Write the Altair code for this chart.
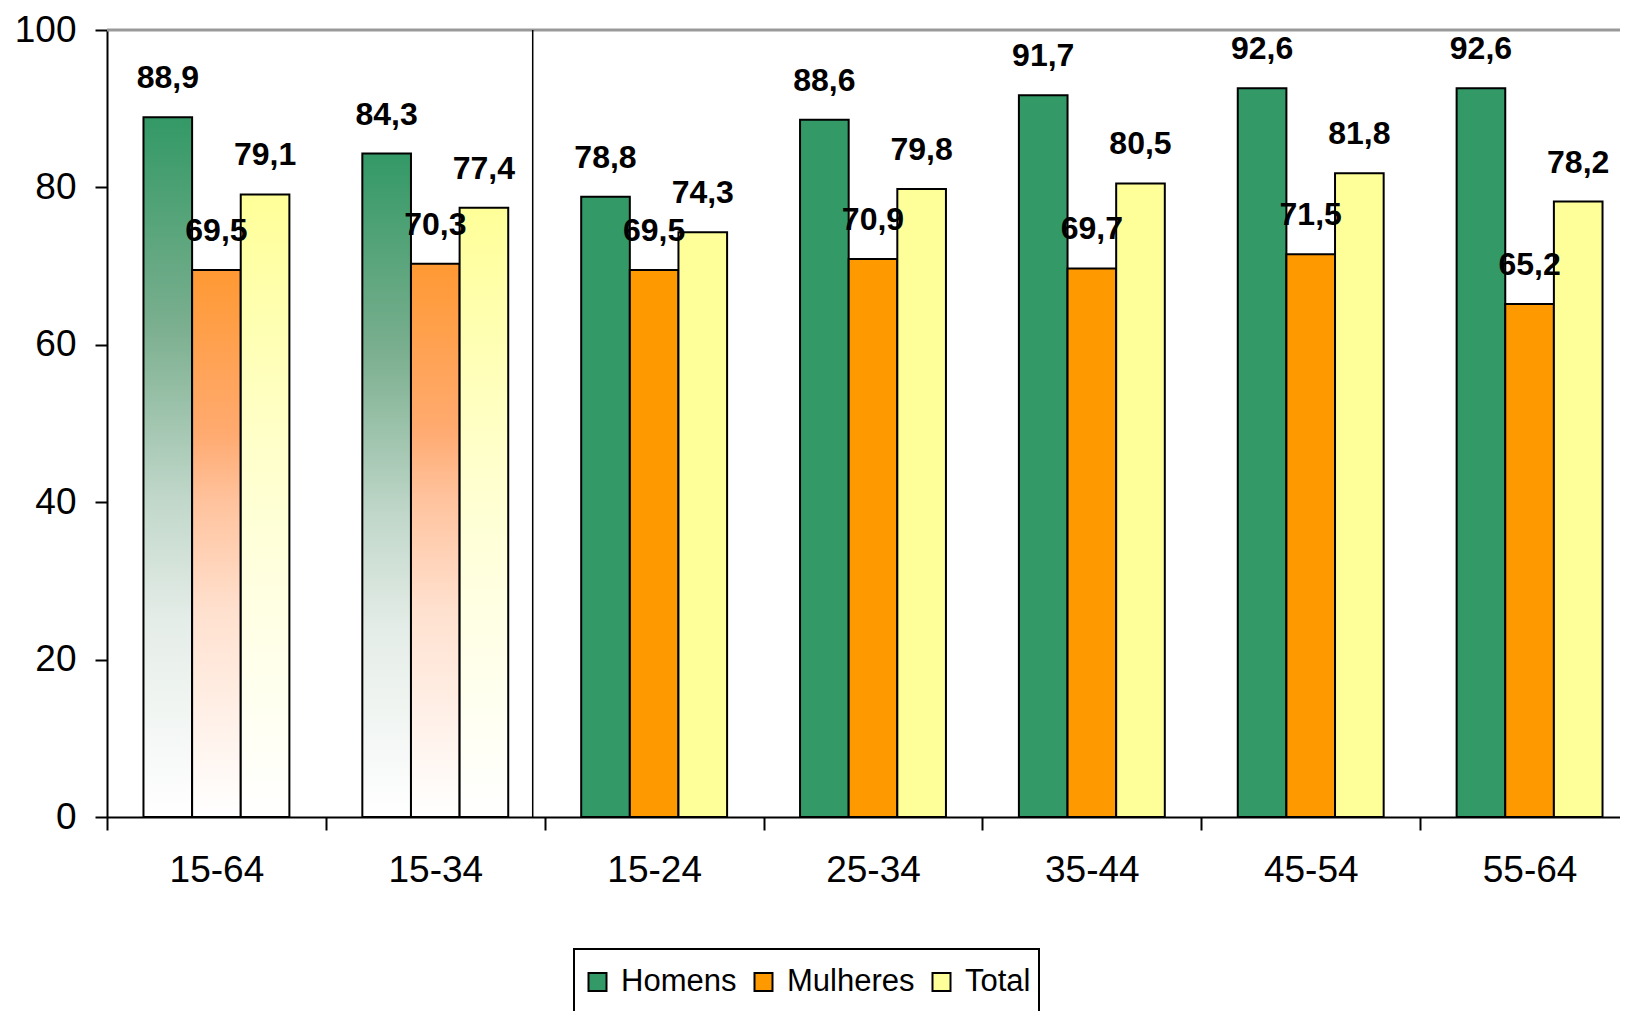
import altair as alt
import pandas as pd

grupos = ["15-64", "15-34", "15-24", "25-34", "35-44", "45-54", "55-64"]
grupos_resumo = ["15-64", "15-34"]
series = ["Homens", "Mulheres", "Total"]
homens = [88.9, 84.3, 78.8, 88.6, 91.7, 92.6, 92.6]
mulheres = [69.5, 70.3, 69.5, 70.9, 69.7, 71.5, 65.2]
total = [79.1, 77.4, 74.3, 79.8, 80.5, 81.8, 78.2]
y_ticks = [0, 20, 40, 60, 80, 100]

cores = ["#339966", "#FF9900", "#FFFF99"]
# fading fills of the two summary groups (top -> bottom of each bar)
grad_stops = {
    "Homens": [(0, "#339966"), (0.3, "#7BAF8F"), (0.55, "#C2D8CB"), (0.72, "#E5EDE8"), (1, "#FFFFFF")],
    "Mulheres": [(0, "#FF9933"), (0.3, "#FFAA70"), (0.42, "#FFC29C"), (0.62, "#FFE0CE"), (1, "#FFFFFF")],
    "Total": [(0, "#FFFF99"), (0.42, "#FFFFCC"), (0.62, "#FFFFE0"), (1, "#FFFFFF")],
}
FONT = "Liberation Sans"

rows = []
for s, vals in zip(series, [homens, mulheres, total]):
    for g, v in zip(grupos, vals):
        rows.append({
            "grupo": g, "serie": s, "valor": v,
            "resumo": g in grupos_resumo,
            "rotulo": f"{v:.1f}".replace(".", ","),
        })
df = pd.DataFrame(rows)

x_scale = alt.Scale(domain=grupos, range=[0, 1532], paddingInner=0, paddingOuter=0)
x_enc = alt.X(
    "grupo:N", sort=grupos, scale=x_scale,
    axis=alt.Axis(title=None, labelAngle=0, labelAlign="center", tickBand="extent",
                  tickSize=13, labelPadding=40),
)
xo_enc = alt.XOffset("serie:N", scale=alt.Scale(domain=series, paddingInner=0, paddingOuter=0.75))
y_enc = alt.Y(
    "valor:Q",
    scale=alt.Scale(domain=[0, 100], nice=False, zero=True),
    axis=alt.Axis(title=None, values=y_ticks, tickSize=12, labelPadding=19),
)

base = alt.Chart(df)

solid = base.transform_filter(alt.datum.resumo == False).mark_bar(
    stroke="black", strokeWidth=2
).encode(
    x=x_enc, xOffset=xo_enc, y=y_enc,
    color=alt.Color(
        "serie:N",
        scale=alt.Scale(domain=series, range=cores),
        legend=alt.Legend(
            title=None, orient="none", direction="horizontal",
            legendX=467, legendY=919,
            symbolType="square", symbolSize=324, symbolStrokeColor="black",
            symbolStrokeWidth=2, symbolOpacity=1,
            labelFontSize=31, labelFont=FONT, labelColor="black",
            labelOffset=8, columnPadding=11, padding=8, clipHeight=50,
            strokeColor="black",
        ),
    ),
)

grad_layers = []
for s in series:
    grad = alt.Gradient(
        gradient="linear", x1=0, y1=0, x2=0, y2=1,
        stops=[alt.GradientStop(color=c, offset=o) for o, c in grad_stops[s]],
    )
    grad_layers.append(
        base.transform_filter((alt.datum.resumo == True) & (alt.datum.serie == s))
        .mark_bar(fill=grad, stroke="black", strokeWidth=2)
        .encode(x=x_enc, xOffset=xo_enc, y=y_enc)
    )

labels = base.mark_text(
    font=FONT, fontSize=32, fontWeight="bold", color="black",
    baseline="middle", align="center", dy=-39,
).encode(x=x_enc, xOffset=xo_enc, y=y_enc, text="rotulo:N")

top_line = alt.Chart(pd.DataFrame({"v": [100]})).mark_rule(
    color="#999999", strokeWidth=3
).encode(y=alt.Y("v:Q", scale=alt.Scale(domain=[0, 100])))

divider = alt.Chart(pd.DataFrame({"g": ["15-34"]})).mark_rule(
    color="black", strokeWidth=1.5, xOffset=-12
).encode(x=alt.X("g:N", bandPosition=1, scale=x_scale))

chart = alt.layer(top_line, divider, solid, *grad_layers, labels).properties(
    width=1513, height=787,
    autosize=alt.AutoSizeParams(type="none"),
    padding={"left": 99, "top": 22, "right": 0, "bottom": 194},
).configure_view(stroke=None).configure_axis(
    domainColor="black", domainWidth=2, tickColor="black", tickWidth=2,
    labelFont=FONT, labelFontSize=37, labelColor="black", grid=False,
).configure_legend(strokeWidth=2)

chart.save("out.html", embed_options={"renderer": "svg", "actions": False})
